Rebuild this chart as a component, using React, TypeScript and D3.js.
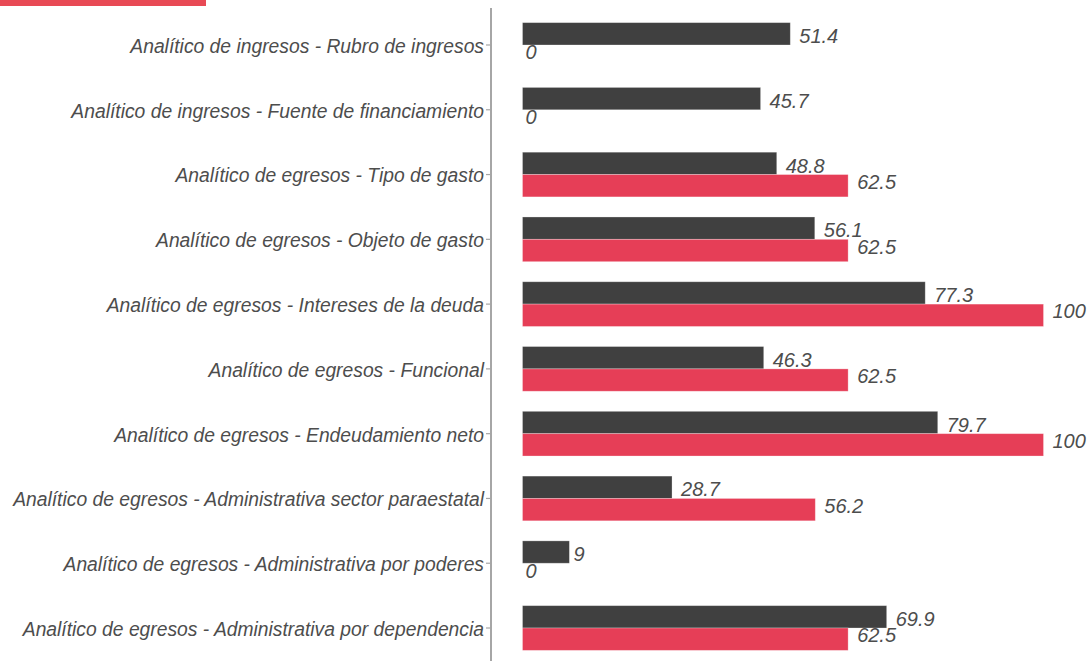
import React from "react";
import * as d3 from "d3";

const categories = [
  "Analítico de ingresos - Rubro de ingresos",
  "Analítico de ingresos - Fuente de financiamiento",
  "Analítico de egresos - Tipo de gasto",
  "Analítico de egresos - Objeto de gasto",
  "Analítico de egresos - Intereses de la deuda",
  "Analítico de egresos - Funcional",
  "Analítico de egresos - Endeudamiento neto",
  "Analítico de egresos - Administrativa sector paraestatal",
  "Analítico de egresos - Administrativa por poderes",
  "Analítico de egresos - Administrativa por dependencia",
];
const darkValues = [51.4, 45.7, 48.8, 56.1, 77.3, 46.3, 79.7, 28.7, 9, 69.9];
const redValues = [0, 0, 62.5, 62.5, 100, 62.5, 100, 56.2, 0, 62.5];
const series = ["dark", "red"];

const W = 1090;
const H = 661;
const DARK = "#404040";
const RED = "#e63e57";
const TEXT = "#4d4d4d";

export default function App() {
  const x = d3.scaleLinear().domain([0, 100]).range([522.5, 1043.5]);
  const y = d3
    .scaleBand<string>()
    .domain(categories)
    .range([12.6, 660.4])
    .paddingInner(0.31)
    .paddingOuter(0.155);
  const inner = d3.scaleBand<string>().domain(series).range([0, y.bandwidth()]);
  const fmt = (v: number) => String(v);
  const off = (s: string) => (s.length === 1 ? 4 : 9);

  return (
    <svg
      width={W}
      height={H}
      style={{ position: "absolute", left: 0, top: 0, display: "block" }}
    >
      <rect x={0} y={0} width={206} height={6} fill="#e84a55" />
      <line x1={491} x2={491} y1={8} y2={661} stroke="#a6a6a6" strokeWidth={2} />
      {categories.map((c, i) => {
        const y0 = y(c)!;
        const mid = y0 + y.bandwidth() / 2;
        const dv = darkValues[i];
        const rv = redValues[i];
        const dy = y0 + inner("dark")!;
        const ry = y0 + inner("red")!;
        const bh = inner.bandwidth();
        return (
          <g key={c}>
            <line x1={486} x2={491} y1={mid} y2={mid} stroke="#a6a6a6" strokeWidth={1.2} />
            <text
              x={484}
              y={mid + 1}
              dy="0.36em"
              textAnchor="end"
              fontFamily="Liberation Sans, Arial, sans-serif"
              fontStyle="italic"
              fontSize={19.3}
              fill={TEXT}
            >
              {c}
            </text>
            <rect
              x={x(0)}
              y={dy}
              width={x(dv) - x(0)}
              height={bh}
              fill={DARK}
              stroke="#ffffff"
              strokeOpacity={0.35}
              strokeWidth={0.8}
            />
            {rv > 0 && (
              <rect
                x={x(0)}
                y={ry}
                width={x(rv) - x(0)}
                height={bh}
                fill={RED}
                stroke="#ffffff"
                strokeOpacity={0.35}
                strokeWidth={0.8}
              />
            )}
            <text
              x={x(dv) + off(fmt(dv))}
              y={dy + bh / 2 + 2}
              dy="0.36em"
              fontFamily="Liberation Sans, Arial, sans-serif"
              fontStyle="italic"
              fontSize={20}
              fill={TEXT}
            >
              {fmt(dv)}
            </text>
            <text
              x={x(rv) + off(fmt(rv)) - (rv === 0 ? 1 : 0)}
              y={ry + bh / 2 - 4}
              dy="0.36em"
              fontFamily="Liberation Sans, Arial, sans-serif"
              fontStyle="italic"
              fontSize={20}
              fill={TEXT}
            >
              {fmt(rv)}
            </text>
          </g>
        );
      })}
    </svg>
  );
}
